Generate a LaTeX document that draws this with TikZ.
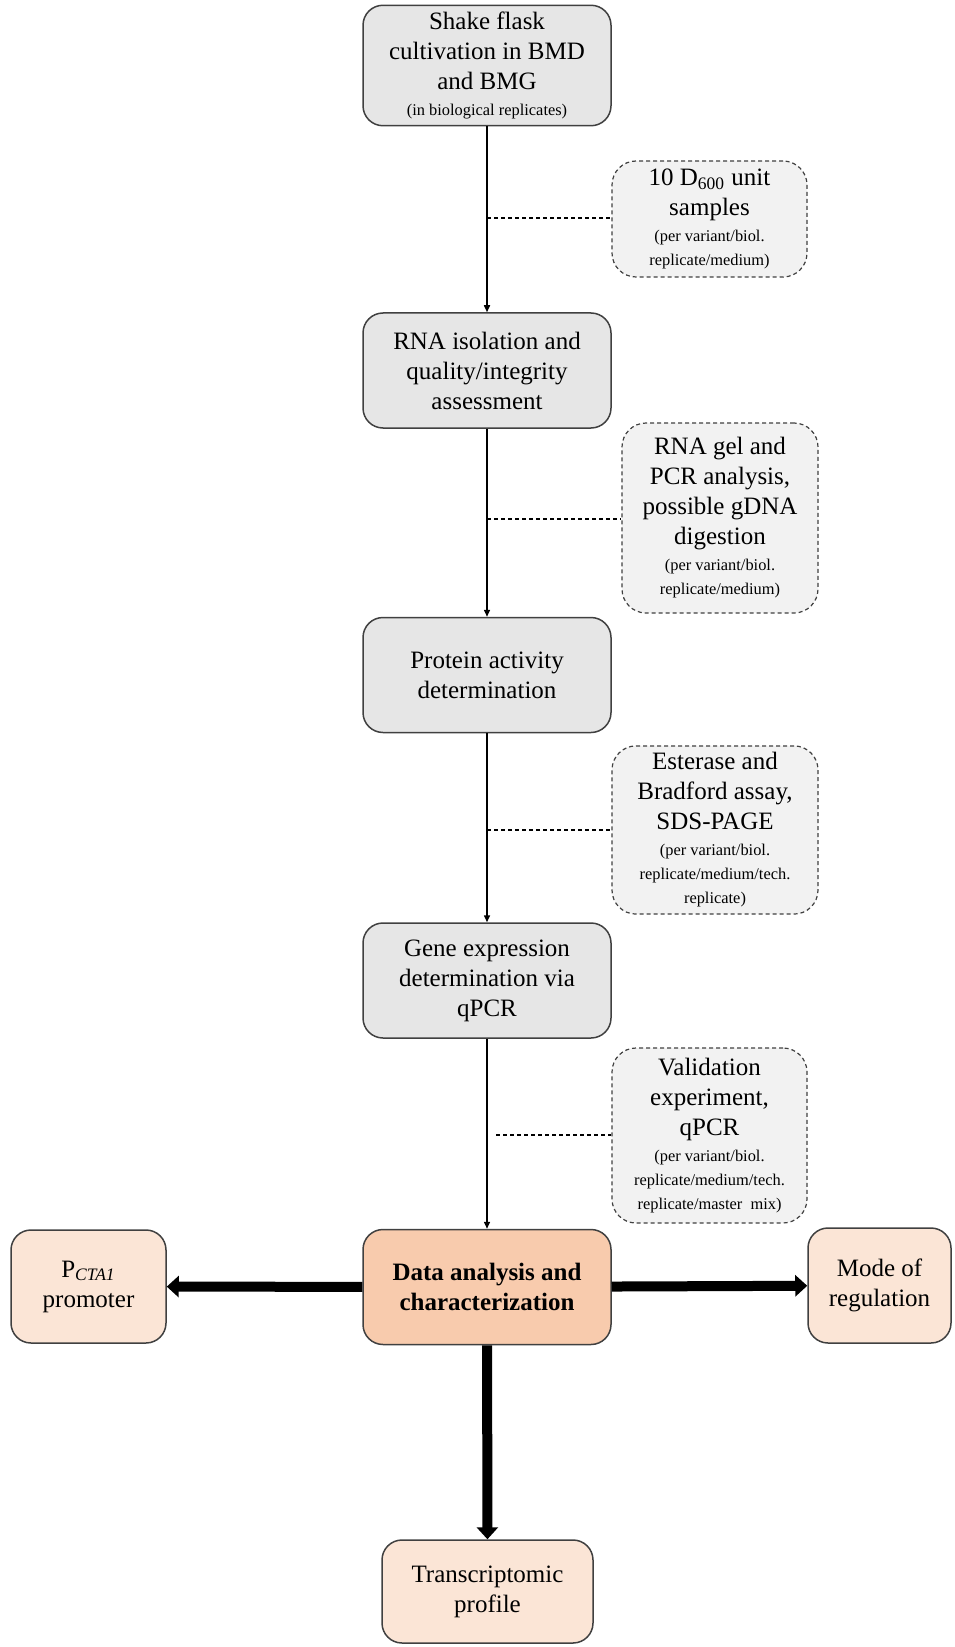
\documentclass[tikz,border=0pt]{standalone}
\usepackage{fontspec}
\setmainfont{Liberation Serif}
\usetikzlibrary{arrows.meta}
\definecolor{kastengrau}{HTML}{E6E6E6}
\definecolor{probengrau}{HTML}{F2F2F2}
\definecolor{randgrau}{HTML}{404040}
\definecolor{pfirsich}{HTML}{F8CBAD}
\definecolor{hellpfirsich}{HTML}{FBE5D6}
\newcommand{\grosstext}{\fontsize{12.5}{15}\selectfont}
\newcommand{\kleintext}{\fontsize{8.2}{10}\selectfont}
\begin{document}
\begin{tikzpicture}[x=0.5pt,y=-0.5pt,
	schritt/.style={draw=randgrau,fill=kastengrau,line width=0.75pt,rounded corners=10pt,align=center,minimum width=124pt,minimum height=57.5pt,font=\grosstext},
	probe/.style={draw=randgrau,fill=probengrau,line width=0.6pt,dash pattern=on 2pt off 1.5pt,rounded corners=12pt,align=center,font=\grosstext},
	ergebnis/.style={draw=randgrau,fill=hellpfirsich,line width=0.75pt,rounded corners=10pt,align=center,font=\grosstext},
	pfeil/.style={line width=0.75pt,-{Triangle[length=3.5pt,width=3pt]}},
	hilfslinie/.style={line width=0.6pt,dash pattern=on 2pt off 1.5pt},
	dick/.style={line width=5pt,-{Triangle[length=6pt,width=10.5pt]}}]
	\useasboundingbox (0,0) rectangle (954,1647);
	%Hauptschritte
	\node [schritt] (kultur) at (487,65.5) {Shake flask\\cultivation in BMD\\and BMG\\[-2pt]{\kleintext (in biological replicates)}};
	\node [schritt] (rna) at (487,370.5) {RNA isolation and\\quality/integrity\\assessment};
	\node [schritt] (protein) at (487,675) {Protein activity\\determination};
	\node [schritt] (gen) at (487,980.5) {Gene expression\\determination via\\qPCR};
	\node [schritt,fill=pfirsich,font=\grosstext\bfseries] (daten) at (487,1287) {Data analysis and\\characterization};
	%Proben und Kontrollen
	\node [probe,minimum width=97.5pt,minimum height=58pt] (proben) at (709.5,219) {10 D\textsubscript{600} unit\\samples\\[-2pt]{\kleintext (per variant/biol.}\\[-3pt]{\kleintext replicate/medium)}};
	\node [probe,minimum width=98pt,minimum height=95pt] (gel) at (720,518) {RNA gel and\\PCR analysis,\\possible gDNA\\digestion\\[-2pt]{\kleintext (per variant/biol.}\\[-3pt]{\kleintext replicate/medium)}};
	\node [probe,minimum width=103pt,minimum height=83pt] (assay) at (715,830) {Esterase and\\Bradford assay,\\SDS-PAGE\\[-2pt]{\kleintext (per variant/biol.}\\[-3pt]{\kleintext replicate/medium/tech.}\\[-3pt]{\kleintext replicate)}};
	\node [probe,minimum width=97.5pt,minimum height=87.5pt] (valid) at (709.5,1135.5) {Validation\\experiment,\\qPCR\\[-2pt]{\kleintext (per variant/biol.}\\[-3pt]{\kleintext replicate/medium/tech.}\\[-3pt]{\kleintext replicate/master\ \ mix)}};
	%Ergebnisse
	\node [ergebnis,minimum width=77.5pt,minimum height=56.5pt] (promotor) at (88.5,1286.5) {P\textsubscript{\textit{CTA1}}\\promoter};
	\node [ergebnis,minimum width=71.5pt,minimum height=57.5pt] (modus) at (879.5,1285.5) {Mode of\\regulation};
	\node [ergebnis,minimum width=105.5pt,minimum height=51.5pt] (profil) at (487.5,1591.5) {Transcriptomic\\profile};
	%Pfeile
	\draw [pfeil] (kultur) -- (rna);
	\draw [pfeil] (rna) -- (protein);
	\draw [pfeil] (protein) -- (gen);
	\draw [pfeil] (gen) -- (daten);
	\draw [dick] (daten) -- (promotor);
	\draw [dick] (daten) -- (modus);
	\draw [dick] (daten) -- (profil);
	%gestrichelte Verbindungen
	\coordinate (h1) at (487,218);
	\coordinate (h2) at (487,519);
	\coordinate (h3) at (487,830);
	\coordinate (h4) at (496,1135);
	\draw [hilfslinie] (h1) -- (h1 -| proben.west);
	\draw [hilfslinie] (h2) -- (h2 -| gel.west);
	\draw [hilfslinie] (h3) -- (h3 -| assay.west);
	\draw [hilfslinie] (h4) -- (h4 -| valid.west);
\end{tikzpicture}
\end{document}
